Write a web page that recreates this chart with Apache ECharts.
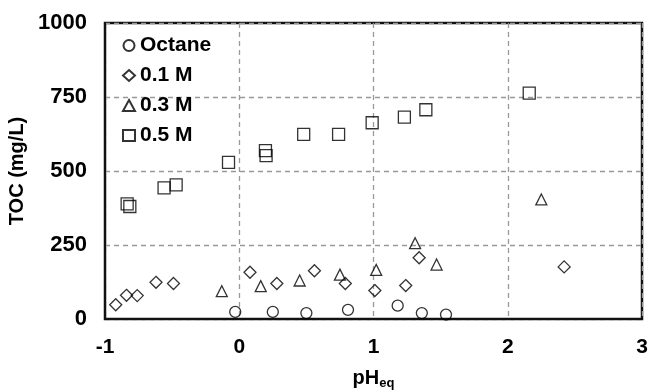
<!DOCTYPE html>
<html>
<head>
<meta charset="utf-8">
<script src="https://cdn.jsdelivr.net/npm/echarts@6/dist/echarts.min.js"></script>
<style>
html,body{margin:0;padding:0;background:#fff;overflow:hidden;}
#chart{width:649px;height:391px;}
</style>
</head>
<body>
<div id="chart"></div>
<script>
var seriesNames = ['Octane', '0.1 M', '0.3 M', '0.5 M'];
var octaneX = [-0.03, 0.25, 0.50, 0.81, 1.18, 1.36, 1.54];
var octaneY = [24, 24, 20, 31, 45, 20, 15];
var m01X = [-0.92, -0.84, -0.76, -0.62, -0.49, 0.08, 0.28, 0.56, 0.79, 1.01, 1.24, 1.34, 2.42];
var m01Y = [48, 80, 79, 124, 120, 158, 120, 163, 120, 96, 113, 207, 176];
var m03X = [-0.13, 0.16, 0.45, 0.75, 1.02, 1.31, 1.47, 2.25];
var m03Y = [94, 111, 130, 150, 166, 256, 184, 404];
var m05X = [-0.835, -0.815, -0.56, -0.47, -0.08, 0.195, 0.20, 0.48, 0.74, 0.99, 1.23, 1.39, 2.16];
var m05Y = [389, 380, 443, 453, 529, 569, 552, 624, 624, 663, 682, 707, 763];
var xTicks = [-1, 0, 1, 2, 3];
var yTicks = [0, 250, 500, 750, 1000];

function pairs(xs, ys) { return xs.map(function (x, i) { return [x, ys[i]]; }); }

var FONT = '"Liberation Sans", Arial, sans-serif';
var markStyle = { color: 'rgba(0,0,0,0)', borderColor: '#000', borderWidth: 1.3 };

function mk(name, symbol, size, data) {
  return {
    name: name, type: 'scatter', symbol: symbol, symbolSize: size,
    data: data, itemStyle: markStyle, emphasis: { disabled: true }, z: 3
  };
}

var chart = echarts.init(document.getElementById('chart'), null, { renderer: 'canvas', width: 649, height: 391 });
chart.setOption({
  animation: false,
  backgroundColor: '#fff',
  textStyle: { fontFamily: FONT },
  grid: { left: 105, top: 23, width: 537, height: 296, show: true, borderColor: '#111', borderWidth: 2.5, containLabel: false, outerBoundsMode: 'none' },
  legend: {
    data: seriesNames,
    orient: 'vertical', left: 117, top: 30,
    itemWidth: 12, itemHeight: 11, itemGap: 9,
    textStyle: { fontFamily: FONT, fontWeight: 'bold', fontSize: 21, color: '#000', lineHeight: 21 }
  },
  xAxis: {
    type: 'value', min: xTicks[0], max: xTicks[xTicks.length - 1], interval: 1,
    axisLine: { show: true, onZero: false, lineStyle: { color: '#111', width: 2 } },
    axisTick: { show: false },
    axisLabel: { fontFamily: FONT, fontWeight: 'bold', fontSize: 21, color: '#000', margin: 18, formatter: function (v) { return String(v); } },
    splitLine: { show: true, lineStyle: { color: '#999', width: 1.3, type: [5, 4] } },
    name: '{a|pH}{b|eq}', nameLocation: 'middle', nameGap: 47,
    nameTextStyle: {
      rich: {
        a: { fontFamily: FONT, fontWeight: 'bold', fontSize: 20, color: '#000', lineHeight: 24, verticalAlign: 'middle' },
        b: { fontFamily: FONT, fontWeight: 'bold', fontSize: 13, color: '#000', lineHeight: 14, verticalAlign: 'bottom' }
      }
    }
  },
  yAxis: {
    type: 'value', min: yTicks[0], max: yTicks[yTicks.length - 1], interval: 250,
    axisLine: { show: true, onZero: false, lineStyle: { color: '#111', width: 2 } },
    axisTick: { show: false },
    axisLabel: { fontFamily: FONT, fontWeight: 'bold', fontSize: 22, color: '#000', margin: 18, formatter: function (v) { return String(v); } },
    splitLine: { show: true, lineStyle: { color: '#999', width: 1.3, type: [5, 4] } },
    name: 'TOC (mg/L)', nameLocation: 'middle', nameGap: 62, nameRotate: 90,
    nameTextStyle: { fontFamily: FONT, fontWeight: 'bold', fontSize: 20, color: '#000' }
  },
  series: [
    mk(seriesNames[0], 'circle', 11, pairs(octaneX, octaneY)),
    mk(seriesNames[1], 'diamond', 12, pairs(m01X, m01Y)),
    mk(seriesNames[2], 'triangle', 11, pairs(m03X, m03Y)),
    mk(seriesNames[3], 'rect', 12, pairs(m05X, m05Y))
  ]
});
</script>
</body>
</html>
